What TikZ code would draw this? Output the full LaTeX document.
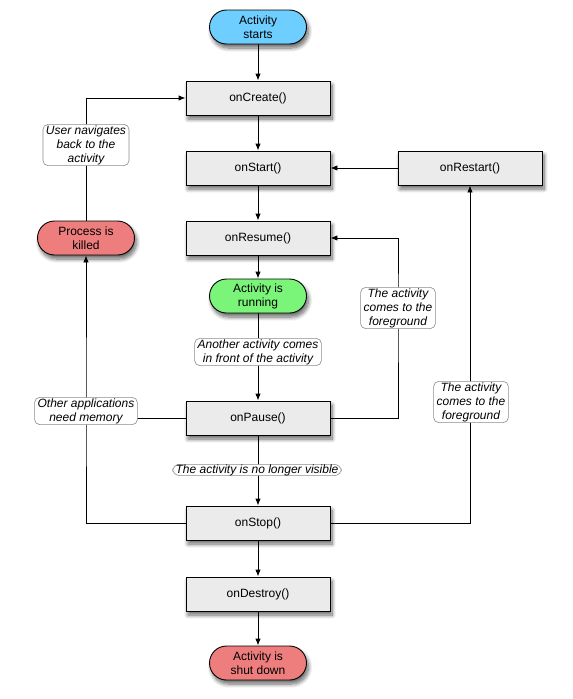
\documentclass[tikz,border=0pt]{standalone}
\usepackage{fontspec}
\setmainfont{Liberation Sans}
\usetikzlibrary{shadows.blur,arrows.meta,backgrounds}
\definecolor{boxgray}{RGB}{235,235,235}
\definecolor{startblue}{RGB}{110,206,255}
\definecolor{rungreen}{RGB}{122,245,122}
\definecolor{killred}{RGB}{238,126,126}
\definecolor{notegray}{RGB}{140,140,140}
\begin{document}
\begin{tikzpicture}[x=1pt,y=-1pt,
  font=\fontsize{12}{14}\selectfont,
  >={Latex[length=7pt,width=5.5pt]},
  shad/.style={blur shadow={shadow xshift=2pt,shadow yshift=-4pt,shadow blur radius=4pt,shadow blur steps=8,shadow opacity=60}},
  lc/.style={draw=black,line width=0.9pt,fill=boxgray,minimum width=144pt,minimum height=34pt,inner sep=0pt,shad},
  pill/.style={draw=black,line width=0.9pt,rounded corners=17pt,minimum width=97pt,minimum height=34pt,align=center,inner sep=0pt,shad},
  note/.style={draw=notegray,fill=white,rounded corners=5pt,align=center,inner xsep=3pt,inner ysep=1pt,line width=0.6pt,font=\fontsize{12}{14}\selectfont\itshape},
  conn/.style={line width=0.9pt}
]
\useasboundingbox (0,0) rectangle (573,699);

\node[pill,fill=startblue] (starts) at (258,27) {Activity\\starts};
\node[lc] (create) at (258,98) {onCreate()};
\node[lc] (start) at (258,168) {onStart()};
\node[lc] (restart) at (470,168) {onRestart()};
\node[lc] (resume) at (258,238) {onResume()};
\node[pill,fill=rungreen] (running) at (258,296) {Activity is\\running};
\node[lc] (pause) at (258,418) {onPause()};
\node[lc] (stop) at (258,523) {onStop()};
\node[lc] (destroy) at (258,594) {onDestroy()};
\node[pill,fill=killred] (shut) at (258,663) {Activity is\\shut down};
\node[pill,fill=killred] (killed) at (86,238) {Process is\\killed};

\node[note] (navback) at (86,145) {User navigates\\back to the\\activity};
\node[note] (infront) at (258,352) {Another activity comes\\in front of the activity};
\node[note] (memory) at (86,411) {Other applications\\need memory};
\node[note,rounded corners=7pt,inner ysep=0pt] (novis) at (257,470) {The activity is no longer visible};
\node[note] (fg1) at (398,308) {The activity\\comes to the\\foreground};
\node[note] (fg2) at (471,402) {The activity\\comes to the\\foreground};

\begin{scope}[on background layer]
\draw[conn,->] (starts) -- (create);
\draw[conn,->] (create) -- (start);
\draw[conn,->] (start) -- (resume);
\draw[conn,->] (resume) -- (running);
\draw[conn,->] (running) -- (pause);
\draw[conn,->] (pause) -- (stop);
\draw[conn,->] (stop) -- (destroy);
\draw[conn,->] (destroy) -- (shut);
\draw[conn,->] (restart) -- (start);
\draw[conn,->] (pause.east) -| (fg1.center) |- (resume.east);
\draw[conn,->] (stop.east) -| (restart.south);
\draw[conn,->] (stop.west) -| (memory.center) -- (killed.south);
\draw[conn] (pause.west) -- (pause.west -| memory.center);
\draw[conn,->] (killed.north) -- (killed.north |- create.west) -- (create.west);
\end{scope}
\end{tikzpicture}
\end{document}
